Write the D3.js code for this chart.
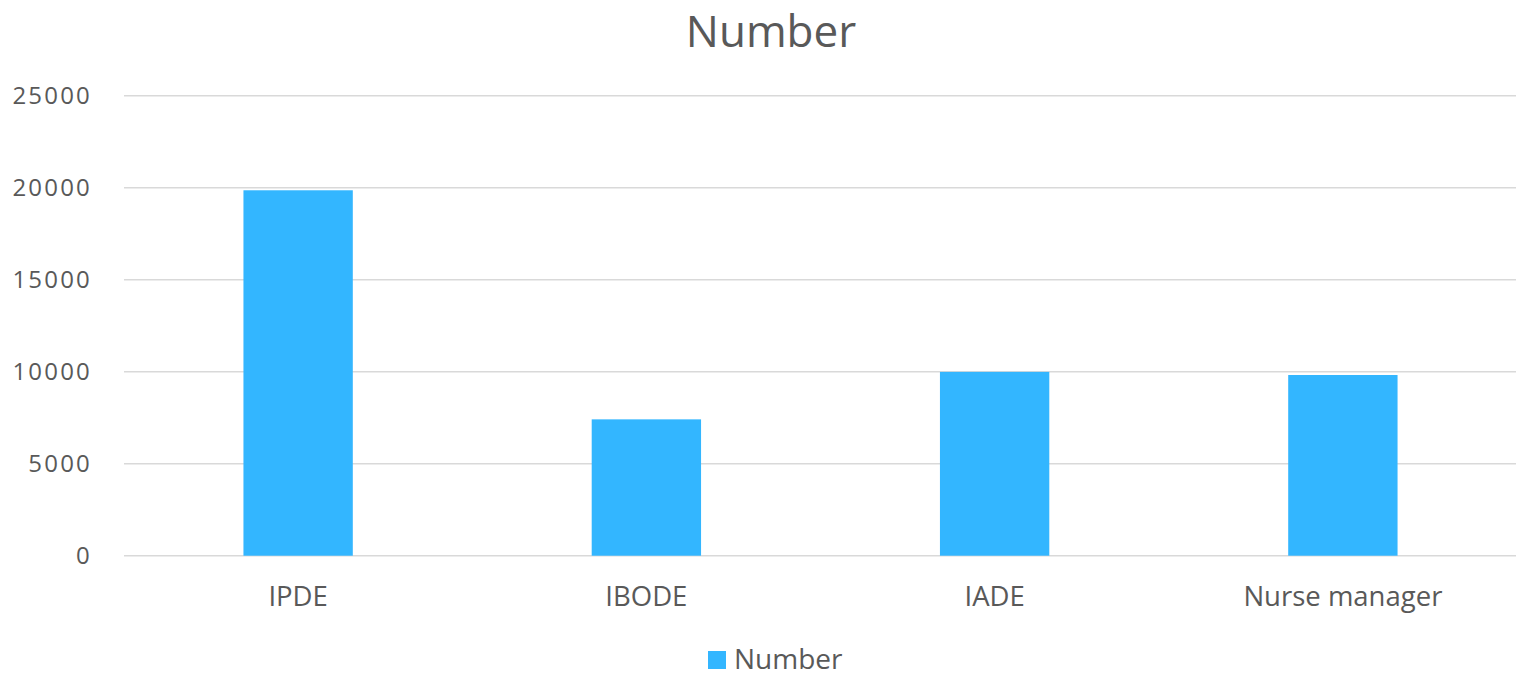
<!DOCTYPE html>
<html><head><meta charset="utf-8">
<script src="https://cdn.jsdelivr.net/npm/d3@7"></script>
<style>body{margin:0;background:#fff;} svg{display:block;} text{font-family:"Open Sans",sans-serif;fill:#595959;}</style>
</head><body>
<svg id="c" width="1516" height="677"></svg>
<script>
const categories = ["IPDE", "IBODE", "IADE", "Nurse manager"];
const values = [19860, 7410, 9990, 9820];
const yTicks = [0, 5000, 10000, 15000, 20000, 25000];
const seriesName = "Number";
const chartTitle = "Number";

(function () {
const svg = d3.select("#c");
const mLeft = 124, mRight = 1517, mTop = 95.7, mBottom = 555.7;
const x = d3.scaleBand().domain(categories).range([mLeft, mRight]).paddingInner(0.686).paddingOuter(0.343);
const y = d3.scaleLinear().domain([0, 25000]).range([mBottom, mTop]);

svg.append("g").selectAll("line").data(yTicks).join("line")
  .attr("x1", mLeft).attr("x2", 1516)
  .attr("y1", d => y(d)).attr("y2", d => y(d))
  .attr("stroke", "#d9d9d9").attr("stroke-width", 1.6);

svg.append("g").selectAll("text").data(yTicks).join("text")
  .attr("x", 92).attr("y", d => y(d) + 8.5)
  .attr("text-anchor", "end").style("font-size", "24px").style("letter-spacing", "2.2px")
  .text(d => d);

svg.append("g").selectAll("rect").data(categories).join("rect")
  .attr("x", d => x(d)).attr("width", x.bandwidth())
  .attr("y", (d, i) => y(values[i])).attr("height", (d, i) => mBottom - y(values[i]))
  .attr("fill", "#33b6ff");

svg.append("g").selectAll("text").data(categories).join("text")
  .attr("x", d => x(d) + x.bandwidth() / 2).attr("y", 606)
  .attr("text-anchor", "middle").style("font-size", "27.5px")
  .text(d => d);

svg.append("text").attr("x", 771).attr("y", 46.7).attr("text-anchor", "middle")
  .style("font-size", "44px").text(chartTitle);

svg.append("rect").attr("x", 708).attr("y", 651).attr("width", 18).attr("height", 18).attr("fill", "#33b6ff");
svg.append("text").attr("x", 734).attr("y", 669).style("font-size", "28px").text(seriesName);
})();
</script>
</body></html>
